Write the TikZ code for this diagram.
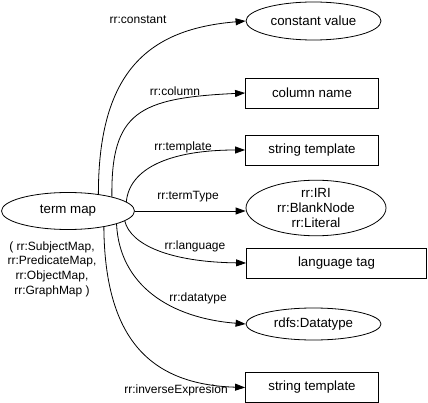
\documentclass[tikz,border=0pt]{standalone}
\usepackage{fontspec}
\setmainfont{Liberation Sans}
\usetikzlibrary{shapes.geometric,arrows.meta}

\begin{document}
\begin{tikzpicture}[x=1pt,y=-1pt,
    oval/.style={draw,ellipse,inner sep=0pt,line width=0.8pt,font=\fontsize{13.3}{15}\selectfont},
    box/.style={draw,rectangle,inner sep=0pt,line width=0.8pt,minimum width=133pt,minimum height=30pt,font=\fontsize{13.3}{15}\selectfont},
    lbl/.style={font=\fontsize{12}{14}\selectfont},
    link/.style={line width=0.8pt,-{Triangle[length=10pt,width=7pt]}}]
   \useasboundingbox (0,0) rectangle (428,403);
   % source
   \node[oval,minimum width=133pt,minimum height=37pt] (tm) at (68,211) {term map};
   \node[lbl,align=center,font=\fontsize{12}{14.7}\selectfont] (kinds) at (52,269) {( rr:SubjectMap,\\rr:PredicateMap,\\rr:ObjectMap,\\rr:GraphMap )};
   % targets
   \node[oval,minimum width=135pt,minimum height=38pt] (cv) at (313.5,21) {constant value};
   \node[box] (cn) at (312,93) {column name};
   \node[box] (st) at (312,150) {string template};
   \node[oval,minimum width=140pt,minimum height=52pt,align=center] (tt) at (316,208) {rr:IRI\\rr:BlankNode\\rr:Literal};
   \node[box,minimum width=180pt] (lt) at (336.5,263) {language tag};
   \node[oval,minimum width=135pt,minimum height=32pt] (dt) at (313.5,324) {rdfs:Datatype};
   \node[box] (ie) at (312,387.5) {string template};
   % links
   \draw[link] (tm.29) .. controls +(0,-124) and +(-96,8) .. (cv.west);
   \draw[link] (tm.18) .. controls +(-1,-85) and +(-106,5) .. (cn.west);
   \draw[link] (tm.9.5) .. controls +(3,-33) and +(-76,0) .. (st.west);
   \draw[link] (tm.east) -- (tm.east -| tt.west);
   \draw[link] (tm.-10) .. controls +(6,24) and +(-76,-1) .. (lt.west);
   \draw[link] (tm.-15.6) .. controls +(3,61) and +(-76,-6) .. (dt.west);
   \draw[link] (tm.-24) .. controls +(1,111) and +(-96,-3) .. (ie.west);
   % labels
   \node[lbl] (lcv) at (138,20) {rr:constant};
   \node[lbl] (lcn) at (175,91) {rr:column};
   \node[lbl] (lst) at (183,147) {rr:template};
   \node[lbl] (ltt) at (188,197) {rr:termType};
   \node[lbl] (llt) at (195,246) {rr:language};
   \node[lbl] (ldt) at (198,298) {rr:datatype};
   \node[lbl] (lie) at (176,390) {rr:inverseExpresion};
\end{tikzpicture}
\end{document}
